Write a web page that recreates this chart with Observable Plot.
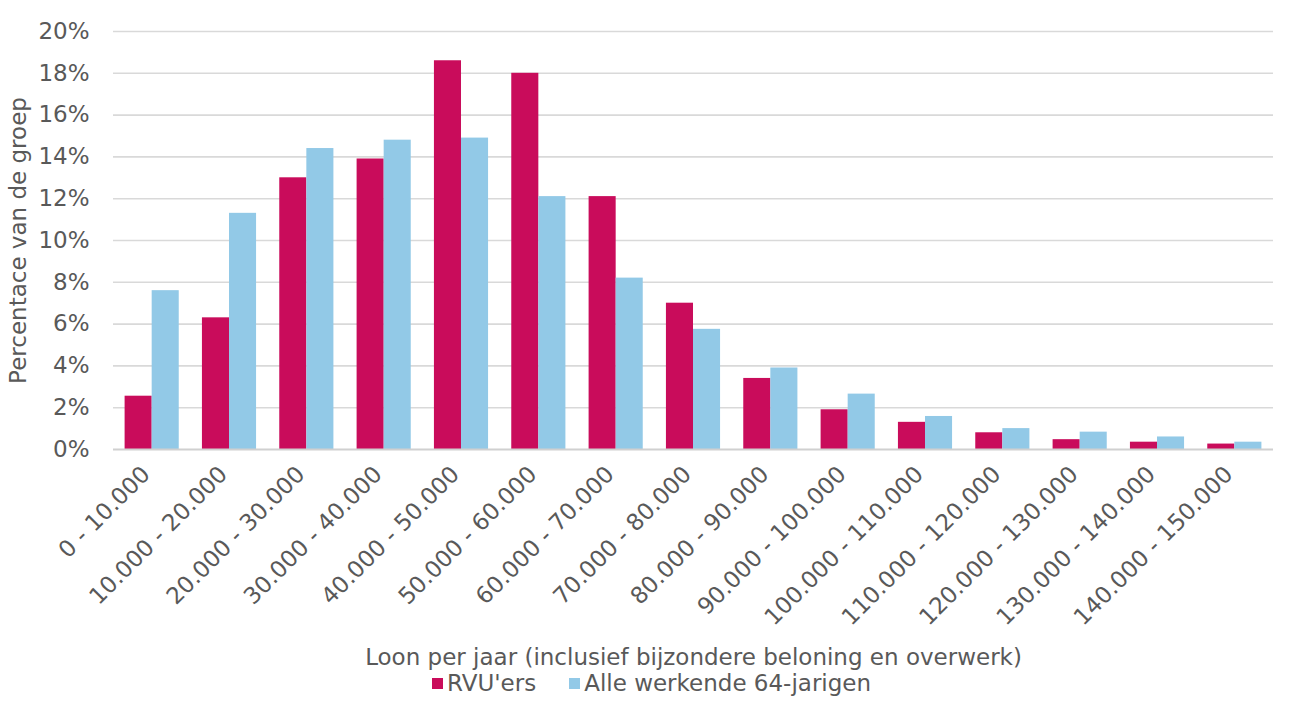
<!DOCTYPE html>
<html><head><meta charset="utf-8">
<script src="https://cdn.jsdelivr.net/npm/d3@7"></script>
<script src="https://cdn.jsdelivr.net/npm/@observablehq/plot@0.6"></script>
<style>
body{margin:0;background:#fff;font-family:"DejaVu Sans",Verdana,sans-serif;}
#chart svg{display:block;}
#legend{display:flex;justify-content:center;gap:33px;font-size:23px;color:#595959;line-height:26px;margin-left:4px;}
#legend span.item{display:inline-flex;align-items:center;}
#legend span.sw{display:inline-block;width:11px;height:11px;margin-right:4px;}
</style></head><body>
<div id="chart"></div>
<div id="legend"></div>
<script>
const categories = ["0 - 10.000","10.000 - 20.000","20.000 - 30.000","30.000 - 40.000","40.000 - 50.000","50.000 - 60.000","60.000 - 70.000","70.000 - 80.000","80.000 - 90.000","90.000 - 100.000","100.000 - 110.000","110.000 - 120.000","120.000 - 130.000","130.000 - 140.000","140.000 - 150.000"];
const rvuValues  = [2.55, 6.3, 13.0, 13.9, 18.6, 18.0, 12.1, 7.0, 3.4, 1.9, 1.3, 0.8, 0.47, 0.35, 0.26];
const alleValues = [7.6, 11.3, 14.4, 14.8, 14.9, 12.1, 8.2, 5.75, 3.9, 2.65, 1.58, 1.0, 0.83, 0.6, 0.35];
const seriesNames = ["RVU'ers", "Alle werkende 64-jarigen"];
const seriesColors = ["#C90C5B", "#92C9E7"];
const yTicks = [0, 2, 4, 6, 8, 10, 12, 14, 16, 18, 20];
const xTitle = "Loon per jaar (inclusief bijzondere beloning en overwerk)";
const yTitle = "Percentace van de groep";

const rows = categories.map((c, i) => ({cat: c, rvu: rvuValues[i], alle: alleValues[i]}));

const W = 1299, H = 670;
const mL = 113, mR = 26, mT = 31, mB = H - 449;
const step = (W - mL - mR) / categories.length;
const half = step * 0.7 / 2;

const chart = Plot.plot({
  width: W, height: H,
  marginLeft: mL, marginRight: mR, marginTop: mT, marginBottom: mB,
  style: {fontFamily: "DejaVu Sans, Verdana, sans-serif", fontSize: "23px", color: "#595959", background: "white"},
  x: {domain: categories, round: false, paddingInner: 0.3, paddingOuter: 0.15},
  y: {domain: [0, 20], ticks: yTicks, tickFormat: d => d + "%", tickSize: 0, tickPadding: 24,
      label: yTitle, labelAnchor: "center", labelArrow: "none", labelOffset: 104},
  marks: [
    Plot.ruleY(yTicks.filter(t => t > 0), {stroke: "#d9d9d9", strokeWidth: 1.6}),
    Plot.barY(rows, {x: "cat", y: "rvu", fill: seriesColors[0], insetRight: half}),
    Plot.barY(rows, {x: "cat", y: "alle", fill: seriesColors[1], insetLeft: half}),
    Plot.ruleY([0], {stroke: "#d0d0d0", strokeWidth: 2.2}),
    Plot.axisX({tickSize: 0, tickRotate: -45, tickPadding: 30, dx: -6, dy: -9,
      label: xTitle, labelAnchor: "center", labelArrow: "none", labelOffset: mB - 6})
  ]
});
document.getElementById("chart").appendChild(chart);

const legend = document.getElementById("legend");
seriesNames.forEach((n, i) => {
  const item = document.createElement("span");
  item.className = "item";
  const sw = document.createElement("span");
  sw.className = "sw";
  sw.style.background = seriesColors[i];
  item.appendChild(sw);
  item.appendChild(document.createTextNode(n));
  legend.appendChild(item);
});
</script>
</body></html>
